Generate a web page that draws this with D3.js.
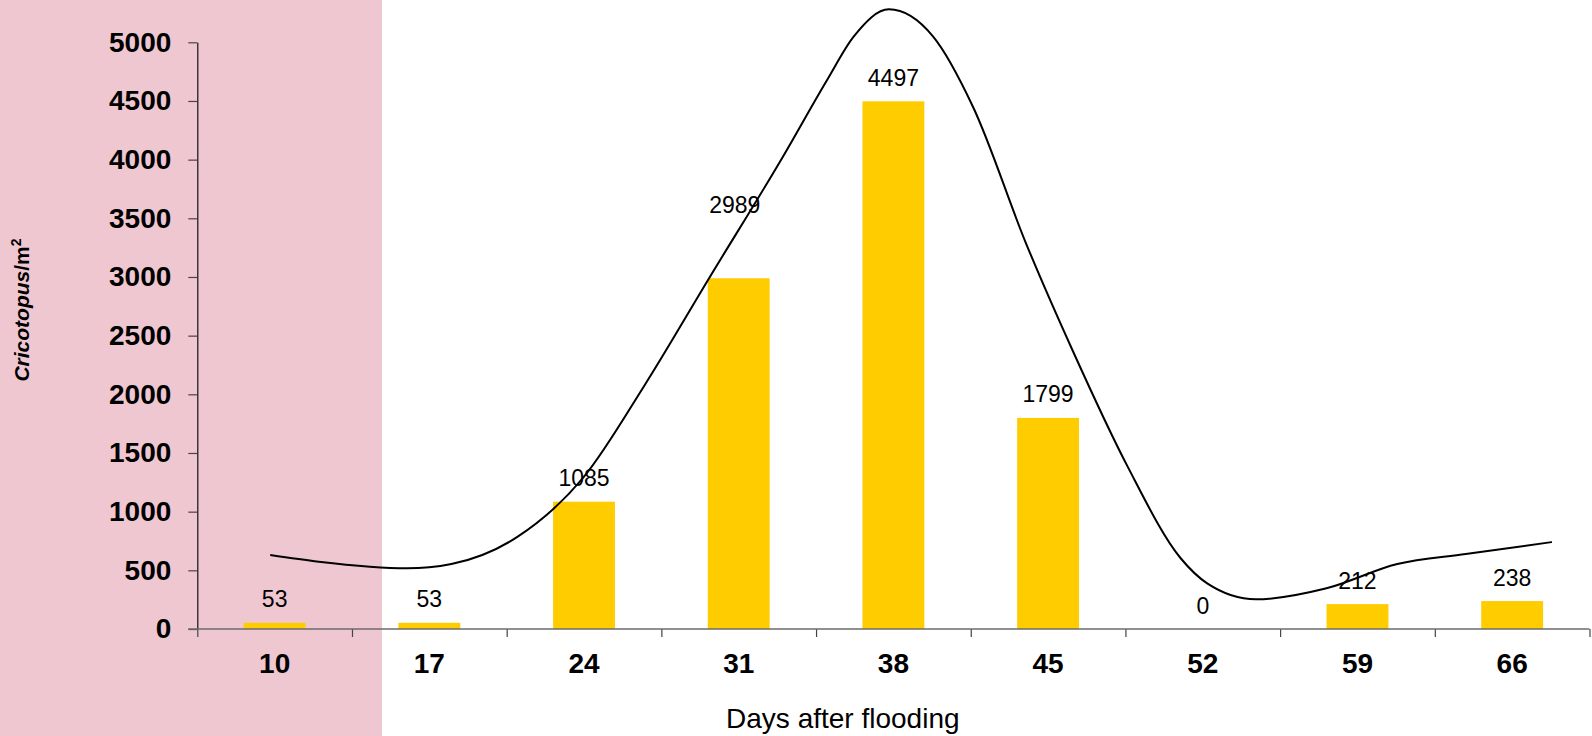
<!DOCTYPE html>
<html>
<head>
<meta charset="utf-8">
<script src="https://cdn.jsdelivr.net/npm/d3@7"></script>
<style>
  html, body { margin: 0; padding: 0; background: #fff; }
  svg { display: block; font-family: "Liberation Sans", Arial, sans-serif; }
</style>
</head>
<body>
<svg id="chart" width="1592" height="736"></svg>
<script>
// ---- data ----
const days = ["10", "17", "24", "31", "38", "45", "52", "59", "66"];
const cricotopus = [53, 53, 1085, 2989, 4497, 1799, 0, 212, 238];
const yTicks = [0, 500, 1000, 1500, 2000, 2500, 3000, 3500, 4000, 4500, 5000];
// hand-drawn trend curve (day, individuals/m²)
const trendDays = [9.8, 12.0, 16.0, 18.0, 21.0, 24.0, 26.7, 29.7, 33.0, 35.0, 36.2, 37.8, 39.8, 41.6, 44.0, 46.1, 48.6, 51.0, 52.2, 54.4, 57.6, 60.8, 63.9, 67.8];
const trendValues = [631, 574, 517, 554, 787, 1298, 2065, 3002, 4025, 4679, 5048, 5281, 5048, 4451, 3287, 2378, 1384, 603, 389, 253, 347, 554, 639, 741];

// ---- layout ----
const W = 1592, H = 736;
const left = 197.3, right = 1589.5, y0 = 629, yTop = 42.3;
const svg = d3.select("#chart");

svg.append("rect").attr("x", 0).attr("y", 0).attr("width", 382).attr("height", H).attr("fill", "#EFC7D1");

const y = d3.scaleLinear().domain([0, 5000]).range([y0, yTop]);
const x = d3.scaleBand().domain(days).range([left, right]).paddingInner(0.6).paddingOuter(0.3);
const bw = x.bandwidth();
const xDay = d3.scaleLinear().domain([10, 66]).range([x("10") + bw / 2, x("66") + bw / 2]);
const xEdge = d3.scaleLinear().domain([0, days.length]).range([left, right]);

// bars
svg.append("g").selectAll("rect").data(days).join("rect")
  .attr("x", d => x(d))
  .attr("y", (d, i) => y(cricotopus[i]))
  .attr("width", bw)
  .attr("height", (d, i) => y0 - y(cricotopus[i]))
  .attr("fill", "#FFCC00");

// y axis
const gy = svg.append("g").attr("transform", `translate(${left},0)`)
  .call(d3.axisLeft(y).tickValues(yTicks).tickFormat(d3.format("d")).tickSize(9).tickSizeOuter(0).tickPadding(17));
gy.select(".domain").attr("stroke", "#111").attr("stroke-width", 1.2);
gy.selectAll(".tick line").attr("stroke", "#444").attr("stroke-width", 1.2);
gy.selectAll(".tick text").attr("font-size", 28).attr("font-weight", "bold").attr("fill", "#000")
  .attr("font-family", "'Liberation Sans', Arial, sans-serif");

// x axis: category edges with ticks
const gxt = svg.append("g").attr("transform", `translate(0,${y0})`)
  .call(d3.axisBottom(xEdge).ticks(days.length).tickSize(8).tickSizeOuter(0).tickFormat(""));
gxt.select(".domain").remove();
gxt.selectAll(".tick line").attr("stroke", "#444").attr("stroke-width", 1.2);
svg.append("line").attr("x1", left - 9).attr("x2", right).attr("y1", y0).attr("y2", y0)
  .attr("stroke", "#6b6b6b").attr("stroke-width", 1.6);

// x labels
const gx = svg.append("g").attr("transform", `translate(0,${y0})`)
  .call(d3.axisBottom(x).tickSize(0).tickPadding(24));
gx.select(".domain").remove();
gx.selectAll(".tick text").attr("font-size", 28).attr("font-weight", "bold").attr("fill", "#000")
  .attr("font-family", "'Liberation Sans', Arial, sans-serif");

// trend curve
const pts = trendDays.map((d, i) => [xDay(d), y(trendValues[i])]);
svg.append("path")
  .attr("d", d3.line().curve(d3.curveMonotoneX)(pts))
  .attr("fill", "none").attr("stroke", "#000").attr("stroke-width", 2);

// value labels
svg.append("g").selectAll("text").data(days).join("text")
  .attr("x", d => x(d) + bw / 2 + (d === "31" ? -4 : 0))
  .attr("y", (d, i) => y(cricotopus[i]) - (d === "31" ? 65 : 15.5))
  .attr("text-anchor", "middle")
  .attr("font-size", 23)
  .attr("fill", "#000")
  .text((d, i) => cricotopus[i]);

// axis titles
svg.append("text").attr("x", 842.8).attr("y", 728.3).attr("text-anchor", "middle")
  .attr("font-size", 28).attr("fill", "#000").text("Days after flooding");

const yt = svg.append("text").attr("transform", "translate(29,310) rotate(-90)")
  .attr("text-anchor", "middle").attr("font-size", 21).attr("font-weight", "bold").attr("fill", "#000");
yt.append("tspan").attr("font-style", "italic").text("Cricotopus");
yt.append("tspan").text("/m");
yt.append("tspan").attr("font-size", 14).attr("dy", -8).text("2");
</script>
</body>
</html>
